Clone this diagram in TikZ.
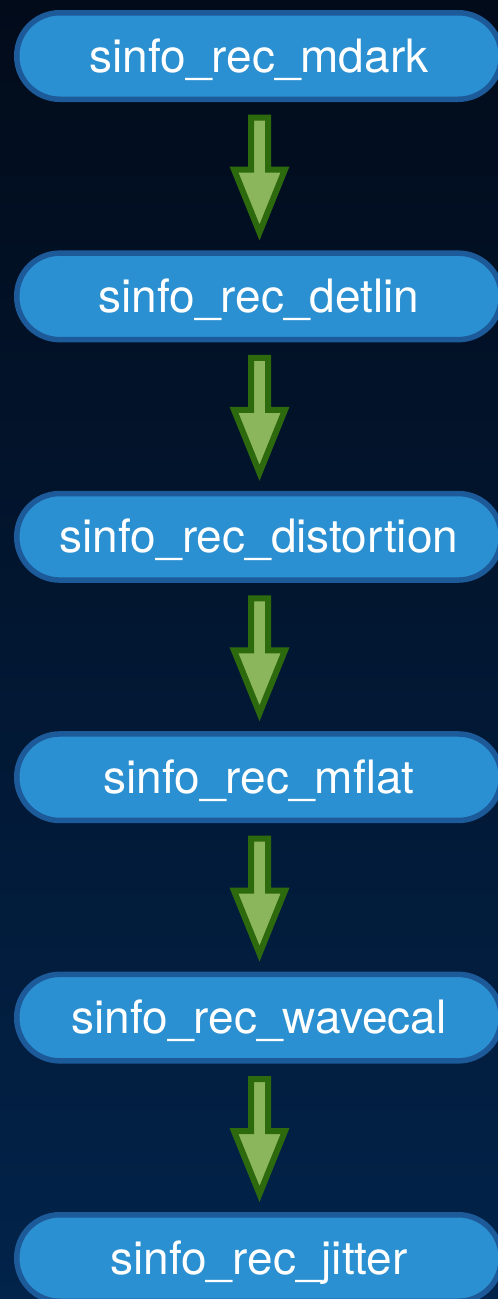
\documentclass[tikz,border=0pt]{standalone}
\usepackage{fontspec}
\setmainfont{TeX Gyre Heros}
\usetikzlibrary{calc}
\definecolor{bgtop}{HTML}{020B1A}
\definecolor{bgbot}{HTML}{02234A}
\definecolor{pillfill}{HTML}{2B90D1}
\definecolor{pillline}{HTML}{1D5A9A}
\definecolor{arrfill}{HTML}{8CB65C}
\definecolor{arrline}{HTML}{2D6A0E}
\tikzset{
  pill/.style={draw=pillline, fill=pillfill, line width=5.5pt,
    minimum width=484.5pt, minimum height=86.5pt, rounded corners=43pt,
    inner sep=0pt, text=white, text height=32pt, text depth=0pt,
    font=\fontsize{46}{50}\selectfont},
  fatarrow/.style={draw=arrline, fill=arrfill, line width=6pt, line join=miter, miter limit=20}
}
\newcommand\fatarrowdraw[2]{%
  \draw[fatarrow] ($(#1.south)+(-8,15.5)$) -- ($(#1.south)+(9,15.5)$)
    -- ($(#1.south)+(9,67.5)$) -- ($(#1.south)+(26,67.5)$)
    -- ($(#2.north)+(0.5,-18)$) -- ($(#1.south)+(-25,67.5)$)
    -- ($(#1.south)+(-8,67.5)$) -- cycle;}
\begin{document}
\begin{tikzpicture}[x=1pt,y=-1pt]
\shade[top color=bgtop, bottom color=bgbot] (0,0) rectangle (498,1299);
\useasboundingbox (0,0) rectangle (498,1299);
\begin{scope}
\clip (0,0) rectangle (498,1299);
\node[pill] (n1) at (259,56) {sinfo\_rec\_mdark};
\node[pill] (n2) at (259,296.4) {sinfo\_rec\_detlin};
\node[pill] (n3) at (259,536.8) {sinfo\_rec\_distortion};
\node[pill] (n4) at (259,777.2) {sinfo\_rec\_mflat};
\node[pill] (n5) at (259,1017.6) {sinfo\_rec\_wavecal};
\node[pill] (n6) at (259,1258) {sinfo\_rec\_jitter};
\fatarrowdraw{n1}{n2}
\fatarrowdraw{n2}{n3}
\fatarrowdraw{n3}{n4}
\fatarrowdraw{n4}{n5}
\fatarrowdraw{n5}{n6}
\end{scope}
\end{tikzpicture}
\end{document}
